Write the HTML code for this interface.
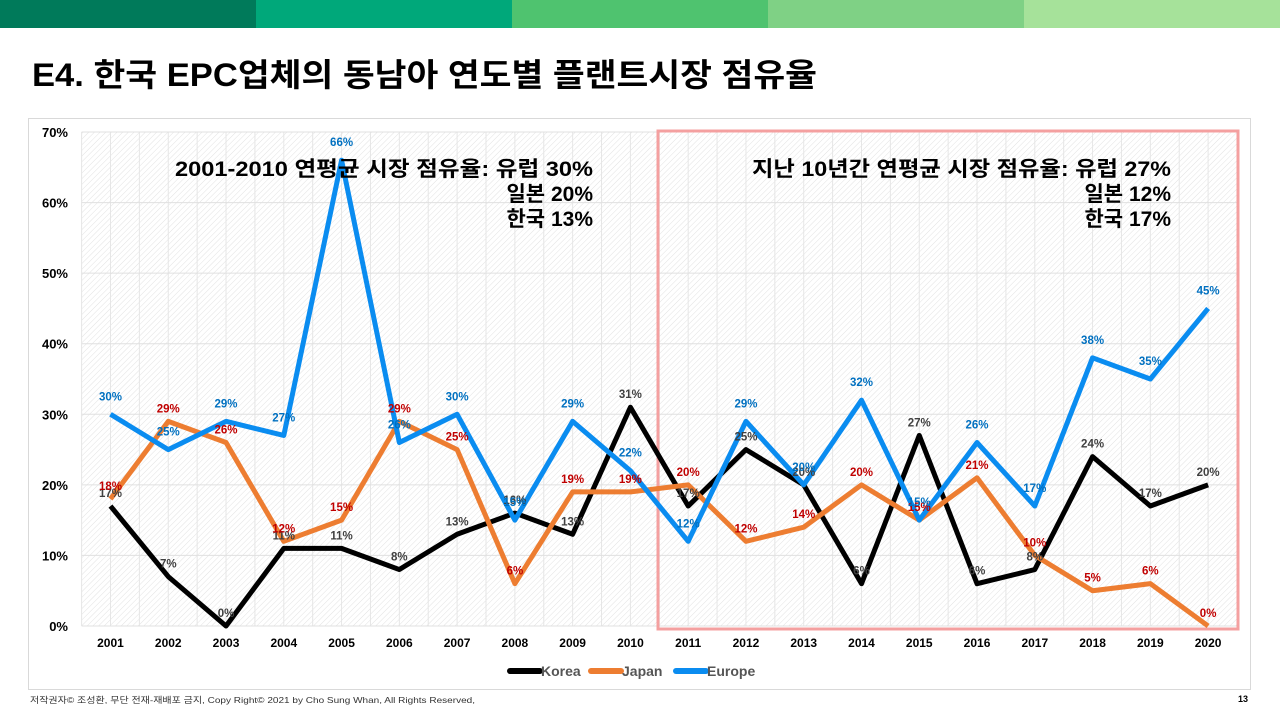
<!DOCTYPE html>
<html><head><meta charset="utf-8">
<style>
body{margin:0;width:1280px;height:720px;background:#fff;overflow:hidden;font-family:"Liberation Sans","Noto Sans CJK KR",sans-serif;position:relative}
.bar{position:absolute;top:0;height:28px}
#frame{position:absolute;left:28px;top:118px;width:1223px;height:572px;border:1px solid #d9d9d9;box-sizing:border-box}
#pg{position:absolute;left:1238px;top:694px;font-size:9px;font-weight:bold}
svg{position:absolute;left:0;top:0}
</style></head><body>
<div class="bar" style="left:0;width:256px;background:#007a5a"></div>
<div class="bar" style="left:256px;width:256px;background:#00a87a"></div>
<div class="bar" style="left:512px;width:256px;background:#4fc36f"></div>
<div class="bar" style="left:768px;width:256px;background:#7fd185"></div>
<div class="bar" style="left:1024px;width:256px;background:#a6e29a"></div>
<div id="frame"></div>
<div id="pg">13</div>
<svg id="chart" width="1280" height="720">
<defs><pattern id="hatch" width="4" height="4" patternUnits="userSpaceOnUse" patternTransform="rotate(45)"><line x1="0" y1="0" x2="0" y2="4" stroke="#e2e2e2" stroke-width="1"/></pattern></defs>
<text x="32" y="86" font-size="32" font-weight="bold" textLength="785" lengthAdjust="spacingAndGlyphs">E4. 한국 EPC업체의 동남아 연도별 플랜트시장 점유율</text>
<text x="30" y="703" font-size="8.5" fill="#333" textLength="445" lengthAdjust="spacingAndGlyphs">저작권자© 조성환, 무단 전재-재배포 금지, Copy Right© 2021 by Cho Sung Whan, All Rights Reserved,</text>
</svg>
<script>
const years=["2001","2002","2003","2004","2005","2006","2007","2008","2009","2010","2011","2012","2013","2014","2015","2016","2017","2018","2019","2020"];
const korea=[17,7,0,11,11,8,13,16,13,31,17,25,20,6,27,6,8,24,17,20];
const japan=[18,29,26,12,15,29,25,6,19,19,20,12,14,20,15,21,10,5,6,0];
const europe=[30,25,29,27,66,26,30,15,29,22,12,29,20,32,15,26,17,38,35,45];
const yTicks=[0,10,20,30,40,50,60,70];
const NS="http://www.w3.org/2000/svg";
const svg=document.getElementById('chart');
const L=81.6,R=1237,T=132,B=626;
const step=(R-L)/years.length;
const x=i=>L+step*(i+0.5);
const y=v=>B-(v/70)*(B-T);
function mk(tag,a,parent){const e=document.createElementNS(NS,tag);for(const k in a)e.setAttribute(k,a[k]);(parent||svg).appendChild(e);return e;}
let r=mk('rect',{x:L,y:T,width:R-L,height:B-T,fill:'url(#hatch)'});


for(let i=0;i<=years.length*2;i++){const gx=L+i*step/2;const l=mk('line',{x1:gx,x2:gx,y1:T,y2:B,stroke:'#e6e6e6','stroke-width':1});}
yTicks.forEach(v=>{const l=mk('line',{x1:L,x2:R,y1:y(v),y2:y(v),stroke:'#e0e0e0','stroke-width':1});
const t=mk('text',{x:68,y:y(v)+5,'text-anchor':'end','font-size':13,'font-weight':'bold',fill:'#000'});t.textContent=v+'%';});
years.forEach((yr,i)=>{const t=mk('text',{x:x(i),y:647,'text-anchor':'middle','font-size':12,'font-weight':'bold',fill:'#000'});t.textContent=yr;});
let hb=mk('rect',{x:658,y:131,width:580,height:498,fill:'none',stroke:'#f4a0a0','stroke-width':3});


function series(data,color,name,lc,dy){
 const p=mk('polyline',{points:data.map((v,i)=>x(i)+','+y(v)).join(' '),fill:'none',stroke:color,'stroke-width':5,'stroke-linejoin':'round'});
 
 
 return ()=>data.forEach((v,i)=>{const t=mk('text',{x:x(i),y:y(v)+dy,'text-anchor':'middle','font-size':11.5,'font-weight':'bold',fill:lc});t.textContent=v+'%';});
}
const lk=series(korea,'#000','korea','#404040',-9);
const lj=series(japan,'#ed7d31','japan','#c00000',-9);
const le=series(europe,'#0a8cf0','europe','#0070c0',-14);
lk();lj();le();
function note(lines,xr,w0){lines.forEach((s,i)=>{const a={x:xr,y:176+i*25,'text-anchor':'end','font-size':21,'font-weight':'bold',fill:'#000'};if(i===0){a.textLength=w0;a.lengthAdjust='spacingAndGlyphs';}const t=mk('text',a);t.textContent=s;});}
note(['2001-2010 연평균 시장 점유율: 유럽 30%','일본 20%','한국 13%'],593,418);
note(['지난 10년간 연평균 시장 점유율: 유럽 27%','일본 12%','한국 17%'],1171,419);
[['Korea','#000',510],['Japan','#ed7d31',591],['Europe','#0a8cf0',676]].forEach(([n,c,lx])=>{
 const l=mk('line',{x1:lx,x2:lx+30,y1:671,y2:671,stroke:c,'stroke-width':6,'stroke-linecap':'round'});
 const t=mk('text',{x:lx+31,y:676,'font-size':14,'font-weight':'bold',fill:'#555'});t.textContent=n;});
</script>
</body></html>
